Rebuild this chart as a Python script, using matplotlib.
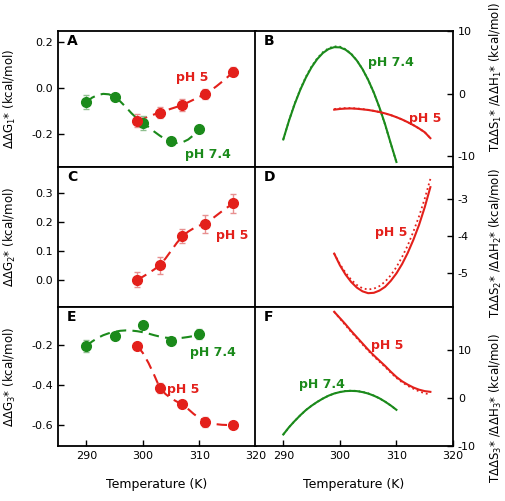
import matplotlib
matplotlib.use("Agg")
import matplotlib.pyplot as plt

plt.rcParams["font.family"] = "DejaVu Sans"
plt.rcParams["axes.unicode_minus"] = False

RED, GREEN = "#e3201b", "#1b8a1b"
RED_ERR, GREEN_ERR = "#e89090", "#8fbf8f"

# ---- measured points (temperature in K) ----
t_ph5 = [299, 303, 307, 311, 316]
t_ph74 = [290, 295, 300, 305, 310]

g1_ph5 = [-0.142, -0.107, -0.074, -0.026, 0.071]
g1_ph5_err = [0.03, 0.025, 0.025, 0.022, 0.02]
g1_ph74 = [-0.062, -0.038, -0.151, -0.233, -0.180]
g1_ph74_err = [0.03, 0.01, 0.03, 0.01, 0.012]

g2_ph5 = [0.0, 0.049, 0.151, 0.192, 0.265]
g2_ph5_err = [0.025, 0.028, 0.025, 0.03, 0.033]

g3_ph5 = [-0.203, -0.417, -0.495, -0.583, -0.600]
g3_ph5_err = [0.015, 0.025, 0.015, 0.025, 0.01]
g3_ph74 = [-0.205, -0.155, -0.099, -0.179, -0.145]
g3_ph74_err = [0.03, 0.01, 0.012, 0.01, 0.025]

# ---- fitted curves ----
fit_t74 = list(range(290, 311))
fit_t5 = list(range(299, 317))

g1_fit74 = [-0.062, -0.042, -0.03, -0.025, -0.027, -0.038, -0.058, -0.083, -0.11, -0.133,
            -0.152, -0.17, -0.19, -0.208, -0.224, -0.235, -0.24, -0.237, -0.225, -0.205, -0.18]
g1_fit5 = [-0.14, -0.133, -0.124, -0.115, -0.106, -0.098, -0.09, -0.082, -0.073, -0.062,
           -0.05, -0.038, -0.025, -0.01, 0.008, 0.028, 0.049, 0.071]
g2_fit5 = [0.0, 0.01, 0.022, 0.035, 0.05, 0.073, 0.1, 0.127, 0.15, 0.166,
           0.178, 0.187, 0.195, 0.207, 0.222, 0.237, 0.251, 0.265]
g3_fit74 = [-0.205, -0.183, -0.165, -0.151, -0.141, -0.134, -0.129, -0.127, -0.128, -0.131,
            -0.136, -0.143, -0.151, -0.158, -0.163, -0.166, -0.166, -0.164, -0.16, -0.155, -0.15]
g3_fit5 = [-0.203, -0.24, -0.29, -0.35, -0.415, -0.445, -0.467, -0.483, -0.497, -0.52,
           -0.545, -0.565, -0.58, -0.59, -0.596, -0.599, -0.6, -0.6]

s1_74 = [-7.3, -4.33, -1.69, 0.61, 2.58, 4.22, 5.52, 6.49, 7.12, 7.42, 7.39,
         7.02, 6.32, 5.29, 3.92, 2.21, 0.18, -2.2, -4.9, -7.94, -10.9]
h1_74 = [-7.3, -4.3, -1.6, 0.7, 2.7, 4.35, 5.65, 6.62, 7.25, 7.55, 7.5,
         7.1, 6.38, 5.32, 3.93, 2.2, 0.15, -2.25, -4.95, -8.0, -10.95]
s1_5 = [-2.55, -2.44, -2.38, -2.36, -2.41, -2.5, -2.6, -2.75, -2.93,
        -3.15, -3.42, -3.75, -4.12, -4.55, -5.02, -5.55, -6.15, -7.1]
h1_5 = [-2.45, -2.35, -2.3, -2.3, -2.35, -2.45, -2.58, -2.74, -2.93,
        -3.15, -3.42, -3.75, -4.12, -4.55, -5.02, -5.55, -6.15, -7.1]

s2_5 = [-4.47, -4.78, -5.03, -5.23, -5.38, -5.48, -5.53, -5.52, -5.46,
        -5.36, -5.2, -5.0, -4.75, -4.45, -4.1, -3.7, -3.23, -2.69]
h2_5 = [-4.47, -4.75, -4.98, -5.17, -5.31, -5.4, -5.43, -5.41, -5.34,
        -5.22, -5.05, -4.83, -4.56, -4.25, -3.88, -3.47, -3.0, -2.47]

s3_74 = [-7.6, -6.1, -4.8, -3.6, -2.5, -1.6, -0.8, -0.1, 0.5, 0.95, 1.25,
         1.45, 1.5, 1.45, 1.25, 0.95, 0.5, -0.05, -0.75, -1.55, -2.45]
h3_74 = [-7.6, -6.1, -4.8, -3.6, -2.5, -1.6, -0.8, -0.1, 0.5, 0.95, 1.28,
         1.48, 1.55, 1.5, 1.3, 0.98, 0.52, -0.05, -0.75, -1.55, -2.45]
s3_5 = [18.0, 16.7, 15.4, 14.0, 12.7, 11.4, 10.1, 8.9, 7.8,
        6.7, 5.5, 4.4, 3.5, 2.8, 2.2, 1.75, 1.45, 1.3]
h3_5 = [18.0, 16.6, 15.2, 13.8, 12.5, 11.2, 9.9, 8.7, 7.6,
        6.5, 5.3, 4.2, 3.3, 2.55, 1.95, 1.4, 1.0, 0.75]

fig = plt.figure(figsize=(5.05, 5.01), dpi=100)
lx, rx, w = 58 / 505, 255 / 505, 198 / 505
rows = [(31, 167), (167, 307), (307, 446)]
axes = []
for top, bot in rows:
    b = (501 - bot) / 501
    h = (bot - top) / 501
    axes.append((fig.add_axes([lx, b, w, h]), fig.add_axes([rx, b, w, h])))

for axL, axR in axes:
    for ax in (axL, axR):
        ax.set_xlim(285, 320)
        ax.tick_params(direction="in", labelsize=8, length=4, width=1)
        for s in ax.spines.values():
            s.set_linewidth(1.3)
    axR.yaxis.tick_right()
    axR.yaxis.set_label_position("right")

DASH = (0, (5, 3))


def points(ax, t, y, err, col, ecol):
    ax.errorbar(t, y, yerr=err, fmt="none", ecolor=ecol, elinewidth=1, capsize=2.5, capthick=1, zorder=2)
    ax.plot(t, y, "o", color=col, ms=7, zorder=3)


def plabel(ax, x, y, txt, col):
    ax.text(x, y, txt, color=col, fontsize=9, fontweight="bold", ha="center", va="center")


# ---- A / B ----
axA, axB = axes[0]
axA.plot(fit_t74, g1_fit74, color=GREEN, lw=1.5, ls=DASH)
axA.plot(fit_t5, g1_fit5, color=RED, lw=1.5, ls=DASH)
points(axA, t_ph74, g1_ph74, g1_ph74_err, GREEN, GREEN_ERR)
points(axA, t_ph5, g1_ph5, g1_ph5_err, RED, RED_ERR)
axA.set_ylim(-0.345, 0.25)
axA.set_yticks([-0.2, 0.0, 0.2])
axA.set_yticklabels(["-0.2", "0.0", "0.2"])
plabel(axA, 308.7, 0.047, "pH 5", RED)
plabel(axA, 311.5, -0.291, "pH 7.4", GREEN)

axB.plot(fit_t74, h1_74, color=GREEN, lw=1.3, ls=":")
axB.plot(fit_t74, s1_74, color=GREEN, lw=1.5)
axB.plot(fit_t5, h1_5, color=RED, lw=1.3, ls=":")
axB.plot(fit_t5, s1_5, color=RED, lw=1.5)
axB.set_ylim(-11.7, 10)
axB.set_yticks([-10, 0, 10])
plabel(axB, 309, 5.0, "pH 7.4", GREEN)
plabel(axB, 315, -4.0, "pH 5", RED)

# ---- C / D ----
axC, axD = axes[1]
axC.plot(fit_t5, g2_fit5, color=RED, lw=1.5, ls=DASH)
points(axC, t_ph5, g2_ph5, g2_ph5_err, RED, RED_ERR)
axC.set_ylim(-0.095, 0.39)
axC.set_yticks([0.0, 0.1, 0.2, 0.3])
axC.set_yticklabels(["0.0", "0.1", "0.2", "0.3"])
plabel(axC, 315.8, 0.151, "pH 5", RED)

axD.plot(fit_t5, h2_5, color=RED, lw=1.3, ls=":")
axD.plot(fit_t5, s2_5, color=RED, lw=1.5)
axD.set_ylim(-5.9, -2.15)
axD.set_yticks([-5, -4, -3])
plabel(axD, 309.1, -3.9, "pH 5", RED)

# ---- E / F ----
axE, axF = axes[2]
axE.plot(fit_t74, g3_fit74, color=GREEN, lw=1.5, ls=DASH)
axE.plot(fit_t5, g3_fit5, color=RED, lw=1.5, ls=DASH)
points(axE, t_ph74, g3_ph74, g3_ph74_err, GREEN, GREEN_ERR)
points(axE, t_ph5, g3_ph5, g3_ph5_err, RED, RED_ERR)
axE.set_ylim(-0.705, -0.01)
axE.set_yticks([-0.6, -0.4, -0.2])
axE.set_yticklabels(["-0.6", "-0.4", "-0.2"])
plabel(axE, 312.3, -0.237, "pH 7.4", GREEN)
plabel(axE, 307.2, -0.42, "pH 5", RED)

axF.plot(fit_t74, h3_74, color=GREEN, lw=1.3, ls=":")
axF.plot(fit_t74, s3_74, color=GREEN, lw=1.5)
axF.plot(fit_t5, h3_5, color=RED, lw=1.3, ls=":")
axF.plot(fit_t5, s3_5, color=RED, lw=1.5)
axF.set_ylim(-10, 19)
axF.set_yticks([-10, 0, 10])
plabel(axF, 308.4, 11.0, "pH 5", RED)
plabel(axF, 296.9, 2.85, "pH 7.4", GREEN)

# x ticks only on the bottom row
for ax in (axA, axB, axC, axD):
    ax.set_xticks([])
for ax in (axE, axF):
    ax.set_xticks([290, 300, 310, 320])
    ax.set_xlabel("Temperature (K)", fontsize=9, labelpad=12)

for ax, letter in zip([axA, axB, axC, axD, axE, axF], "ABCDEF"):
    ax.text(0.045, 0.93, letter, transform=ax.transAxes, fontsize=10,
            fontweight="bold", va="center", ha="left")

left_labels = ["ΔΔG$_1$* (kcal/mol)", "ΔΔG$_2$* (kcal/mol)", "ΔΔG$_3$* (kcal/mol)"]
right_labels = ["TΔΔS$_1$* /ΔΔH$_1$* (kcal/mol)", "TΔΔS$_2$* /ΔΔH$_2$* (kcal/mol)",
                "TΔΔS$_3$* /ΔΔH$_3$* (kcal/mol)"]
right_ypos = [0.66, 0.46, 0.27]
for (axL, axR), ll, rl, ry in zip(axes, left_labels, right_labels, right_ypos):
    axL.set_ylabel(ll, fontsize=8.5)
    axL.yaxis.set_label_coords(-0.2, 0.5)
    axR.set_ylabel(rl, fontsize=8.5)
    axR.yaxis.set_label_coords(1.175, ry)

fig.savefig("out.png", dpi=100)
